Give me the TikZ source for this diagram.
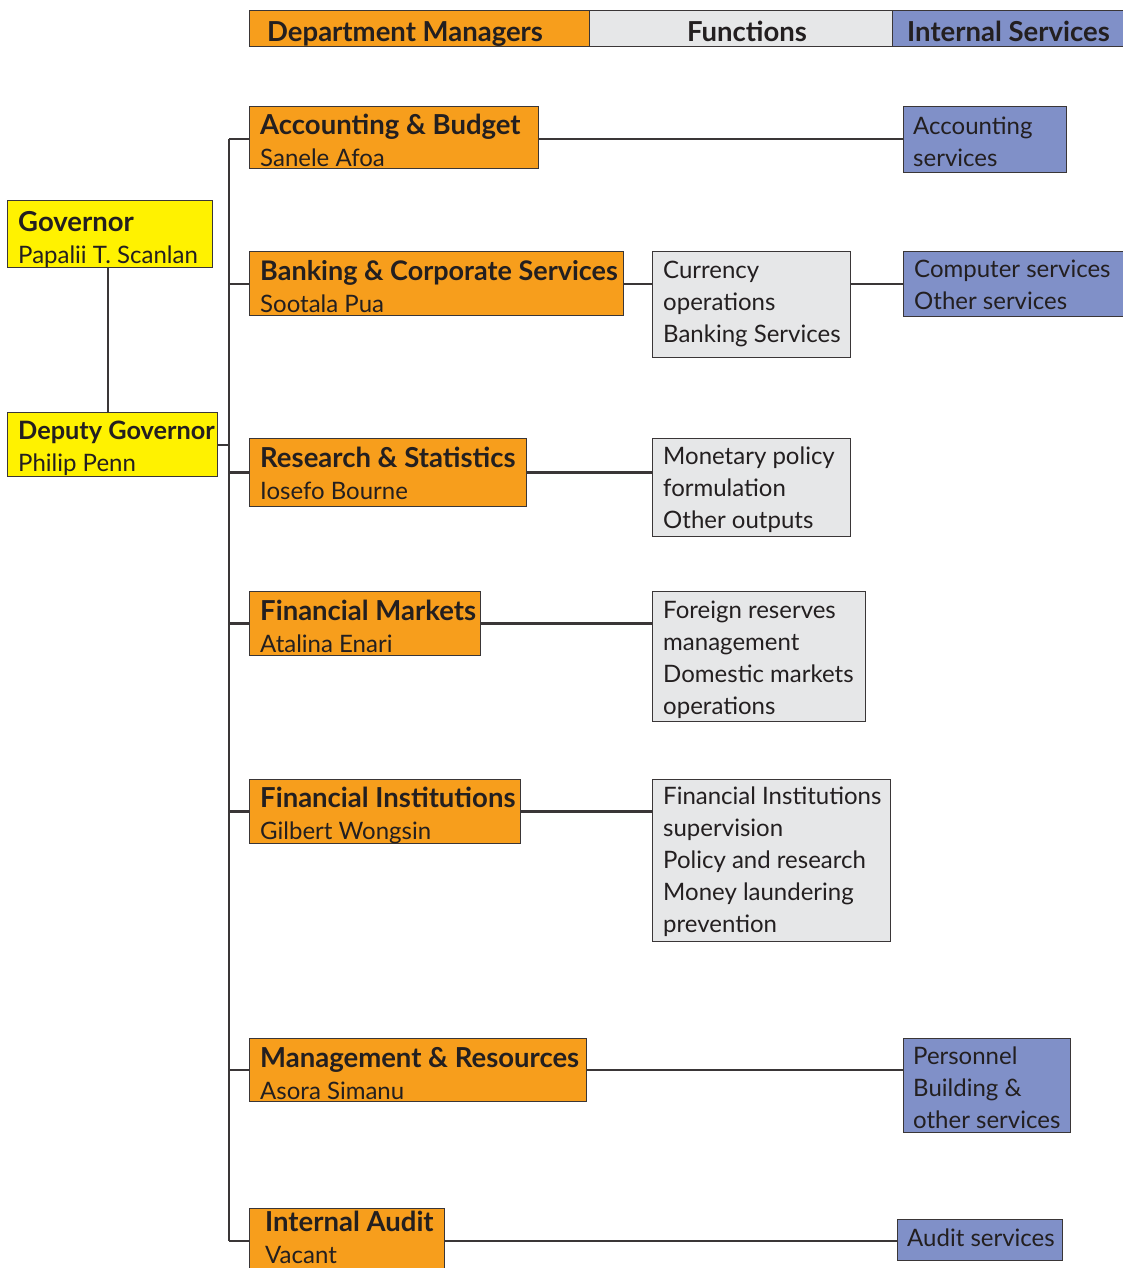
\documentclass[tikz,border=0pt]{standalone}
\usepackage{fontspec}
\setmainfont{Lato}
\definecolor{orng}{HTML}{F79E1C}
\definecolor{yell}{HTML}{FFF200}
\definecolor{blu}{HTML}{8090C8}
\definecolor{gry}{HTML}{E6E7E8}
\definecolor{ink}{HTML}{231F20}
\definecolor{edge}{HTML}{3A3637}
\newcommand\ttl[2][27.5]{{\fontsize{#1}{32}\selectfont\bfseries #2}}
\begin{document}
\begin{tikzpicture}[x=1pt,y=-1pt,
  box/.style={draw=edge,line width=1.3pt,anchor=north west,inner sep=0pt,
    minimum width=#1},
  txt/.style={anchor=north west,inner sep=0pt,align=left,text=ink,
    font=\fontsize{24}{32}\selectfont,
    execute at begin node={\rule{0pt}{24pt}}},
  link/.style={draw=edge,line width=2.4pt},
  hd/.style={txt,font=\fontsize{27.5}{32}\selectfont\bfseries}]
\useasboundingbox (0,0) rectangle (1123,1268);
\clip (0,0) rectangle (1123,1268);

% header
\node[box=340pt,fill=orng,minimum height=36pt] (h1) at (249,10) {};
\node[box=303pt,fill=gry,minimum height=36pt] (h2) at (589,10) {};
\node[box=260pt,fill=blu,minimum height=36pt] (h3) at (892,10) {};
\node[hd] (h1t) at (267,17) {Department Managers};
\node[hd,anchor=north] (h2t) at (747,17) {Functions};
\node[hd] (h3t) at (907,17) {Internal Services};

% governor
\node[box=205pt,fill=yell,minimum height=67pt] (gov) at (7,200) {};
\node[txt] (govt) at (18,211) {\ttl{Governor}\\Papalii T. Scanlan};
\node[box=210pt,fill=yell,minimum height=64pt] (dep) at (7,412) {};
\node[txt] (dept) at (18,421) {\ttl[25.3]{Deputy Governor}\\Philip Penn};

% departments
\node[box=289pt,fill=orng,minimum height=62pt] (acc) at (249,106) {};
\node[txt] (acct) at (260,114) {\ttl{Accounting \& Budget}\\Sanele Afoa};
\node[box=374pt,fill=orng,minimum height=64pt] (bank) at (249,251) {};
\node[txt] (bankt) at (260,260) {\ttl[27]{Banking \& Corporate Services}\\Sootala Pua};
\node[box=277pt,fill=orng,minimum height=68pt] (res) at (249,438) {};
\node[txt] (rest) at (260,447) {\ttl{Research \& Statistics}\\Iosefo Bourne};
\node[box=231pt,fill=orng,minimum height=64pt] (fm) at (249,591) {};
\node[txt] (fmt) at (260,600) {\ttl{Financial Markets}\\Atalina Enari};
\node[box=271pt,fill=orng,minimum height=64pt] (fi) at (249,779) {};
\node[txt] (fit) at (260,787) {\ttl{Financial Institutions}\\Gilbert Wongsin};
\node[box=337pt,fill=orng,minimum height=63pt] (mr) at (249,1038) {};
\node[txt] (mrt) at (260,1047) {\ttl{Management \& Resources}\\Asora Simanu};
\node[box=195pt,fill=orng,minimum height=80pt] (ia) at (249,1208) {};
\node[txt] (iat) at (265,1211) {\ttl{Internal Audit}\\Vacant};

% functions
\node[box=198pt,fill=gry,minimum height=106pt] (f1) at (652,251) {};
\node[txt] (f1t) at (663,261) {Currency\\operations\\Banking Services};
\node[box=198pt,fill=gry,minimum height=98pt] (f2) at (652,438) {};
\node[txt] (f2t) at (663,447) {Monetary policy\\formulation\\Other outputs};
\node[box=213pt,fill=gry,minimum height=130pt] (f3) at (652,591) {};
\node[txt] (f3t) at (663,601) {Foreign reserves\\management\\Domestic markets\\operations};
\node[box=238pt,fill=gry,minimum height=162pt] (f4) at (652,779) {};
\node[txt] (f4t) at (663,787) {Financial Institutions\\supervision\\Policy and research\\Money laundering\\prevention};

% internal services
\node[box=163pt,fill=blu,minimum height=66pt] (s1) at (903,106) {};
\node[txt] (s1t) at (913,117) {Accounting\\services};
\node[box=240pt,fill=blu,minimum height=65pt] (s2) at (903,251) {};
\node[txt] (s2t) at (914,260) {Computer services\\Other services};
\node[box=167pt,fill=blu,minimum height=94pt] (s3) at (903,1038) {};
\node[txt] (s3t) at (913,1047) {Personnel\\Building \&\\other services};
\node[box=165pt,fill=blu,minimum height=41pt] (s4) at (897,1219) {};
\node[txt] (s4t) at (907,1222) {Audit services};

% connectors
\coordinate (tt) at (229,139);
\coordinate (tb) at (229,1241);
\draw[link] (gov.south -| 108,0) -- (dep.north -| 108,0);
\draw[link] (tt) -- (tb);
\draw[link] (dep.east |- 0,445) -- (tt |- 0,445);
\draw[link] (tt) -- (acc.west |- tt);
\draw[link] (acc.east |- tt) -- (s1.west |- tt);
\draw[link] (tt |- 0,284) -- (bank.west |- 0,284);
\draw[link] (bank.east |- 0,284) -- (f1.west |- 0,284);
\draw[link] (f1.east |- 0,284) -- (s2.west |- 0,284);
\draw[link] (tt |- res.west) -- (res.west);
\draw[link] (res.east) -- (f2.west |- res.east);
\draw[link] (tt |- fm.west) -- (fm.west);
\draw[link] (fm.east) -- (f3.west |- fm.east);
\draw[link] (tt |- fi.west) -- (fi.west);
\draw[link] (fi.east) -- (f4.west |- fi.east);
\draw[link] (tt |- mr.west) -- (mr.west);
\draw[link] (mr.east) -- (s3.west |- mr.east);
\draw[link] (tb) -- (ia.west |- tb);
\draw[link] (ia.east |- tb) -- (s4.west |- tb);
\end{tikzpicture}
\end{document}
